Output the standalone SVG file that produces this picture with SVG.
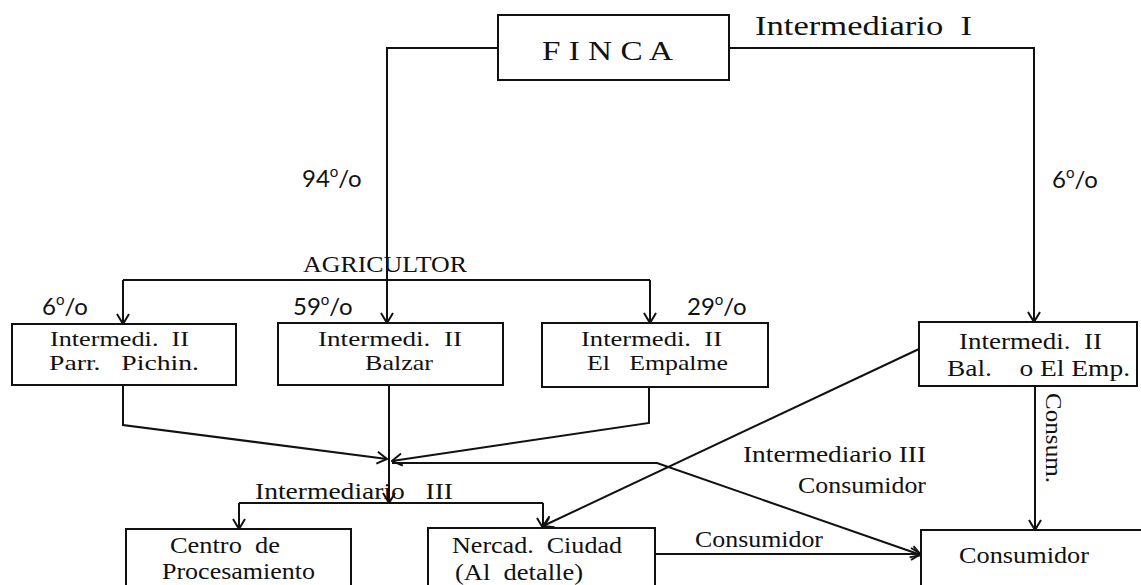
<svg xmlns="http://www.w3.org/2000/svg" width="1141" height="585" viewBox="0 0 1141 585">
<defs>
<style>
.box{fill:none;stroke:#111;stroke-width:2}
.t{font-family:"Liberation Serif","Times New Roman",serif;font-size:24px;fill:#111}
.s{font-size:22px}
.big{font-size:27px}
.p{font-family:Lato,"Noto Sans",sans-serif;font-size:24px;fill:#111}
.sup{font-size:15px}
.c{fill:none;stroke:#111;stroke-width:2}
</style>
<marker id="ah" viewBox="0 0 12 14" refX="11" refY="7" markerWidth="12" markerHeight="14" markerUnits="userSpaceOnUse" orient="auto">
<path d="M1,1 L11,7 L1,13" fill="none" stroke="#111" stroke-width="2"/>
</marker>
</defs>
<rect width="1141" height="585" fill="#fff"/>

<g id="connectors">
<path class="c" d="M498,48 H387 V323" marker-end="url(#ah)"/>
<path class="c" d="M729,48 H1034 V322" marker-end="url(#ah)"/>
<path class="c" d="M123,280 H650"/>
<path class="c" d="M123,280 V324" marker-end="url(#ah)"/>
<path class="c" d="M650,280 V323" marker-end="url(#ah)"/>
<path class="c" d="M123,385 V425 L387,459" marker-end="url(#ah)"/>
<path class="c" d="M389,385 V503" marker-end="url(#ah)"/>
<path class="c" d="M649,387 V423 L392,461" marker-end="url(#ah)"/>
<path class="c" d="M392,463 H657 L921,555" marker-end="url(#ah)"/>
<path class="c" d="M239,503 H543"/>
<path class="c" d="M239,503 V529" marker-end="url(#ah)"/>
<path class="c" d="M543,503 V528" marker-end="url(#ah)"/>
<path class="c" d="M919,349 L543,526" marker-end="url(#ah)"/>
<path class="c" d="M655,554 H921" marker-end="url(#ah)"/>
<path class="c" d="M1035,386 V530" marker-end="url(#ah)"/>
</g>

<g id="labels">
<text class="t big" x="755" y="35" textLength="217" lengthAdjust="spacingAndGlyphs" xml:space="preserve">Intermediario  I</text>
<text class="t" x="303" y="272" textLength="164" lengthAdjust="spacingAndGlyphs">AGRICULTOR</text>
<text class="t" x="255" y="499" textLength="198" lengthAdjust="spacingAndGlyphs" xml:space="preserve">Intermediario   III</text>
<text class="t" x="743" y="462" textLength="183" lengthAdjust="spacingAndGlyphs">Intermediario III</text>
<text class="t" x="798" y="493" textLength="128" lengthAdjust="spacingAndGlyphs">Consumidor</text>
<text class="t" x="695" y="547" textLength="128" lengthAdjust="spacingAndGlyphs">Consumidor</text>
<text class="t" transform="translate(1046,393) rotate(90)" x="0" y="0" textLength="90" lengthAdjust="spacingAndGlyphs">Consum.</text>
<text class="p" x="302" y="187">94<tspan class="sup" dy="-10">o</tspan><tspan dy="10">/o</tspan></text>
<text class="p" x="1052" y="188">6<tspan class="sup" dy="-10">o</tspan><tspan dy="10">/o</tspan></text>
<text class="p" x="42" y="315">6<tspan class="sup" dy="-10">o</tspan><tspan dy="10">/o</tspan></text>
<text class="p" x="293" y="315">59<tspan class="sup" dy="-10">o</tspan><tspan dy="10">/o</tspan></text>
<text class="p" x="687" y="315">29<tspan class="sup" dy="-10">o</tspan><tspan dy="10">/o</tspan></text>
</g>

<g id="finca">
<rect class="box" x="498" y="15" width="231" height="65"/>
<text class="t big" x="542" y="60" textLength="131" lengthAdjust="spacingAndGlyphs" xml:space="preserve">F I N C A</text>
</g>

<g id="parr-pichin">
<rect class="box" x="12" y="324" width="224" height="61"/>
<text class="t s" x="50" y="346" textLength="139" lengthAdjust="spacingAndGlyphs" xml:space="preserve">Intermedi.  II</text>
<text class="t s" x="49" y="370" textLength="150" lengthAdjust="spacingAndGlyphs" xml:space="preserve">Parr.   Pichin.</text>
</g>

<g id="balzar">
<rect class="box" x="278" y="323" width="225" height="62"/>
<text class="t s" x="318" y="346" textLength="144" lengthAdjust="spacingAndGlyphs" xml:space="preserve">Intermedi.  II</text>
<text class="t s" x="365" y="370" textLength="68" lengthAdjust="spacingAndGlyphs">Balzar</text>
</g>

<g id="el-empalme">
<rect class="box" x="542" y="323" width="226" height="64"/>
<text class="t s" x="581" y="346" textLength="141" lengthAdjust="spacingAndGlyphs" xml:space="preserve">Intermedi.  II</text>
<text class="t s" x="587" y="370" textLength="141" lengthAdjust="spacingAndGlyphs" xml:space="preserve">El   Empalme</text>
</g>

<g id="bal-el-emp">
<rect class="box" x="919" y="322" width="218" height="64"/>
<text class="t" x="959" y="349" textLength="143" lengthAdjust="spacingAndGlyphs" xml:space="preserve">Intermedi.  II</text>
<text class="t" x="947" y="376" textLength="183" lengthAdjust="spacingAndGlyphs" xml:space="preserve">Bal.    o El Emp.</text>
</g>

<g id="centro">
<rect class="box" x="126" y="529" width="225" height="80"/>
<text class="t" x="170" y="553" textLength="110" lengthAdjust="spacingAndGlyphs" xml:space="preserve">Centro  de</text>
<text class="t" x="162" y="579" textLength="153" lengthAdjust="spacingAndGlyphs">Procesamiento</text>
</g>

<g id="nercad">
<rect class="box" x="428" y="528" width="227" height="80"/>
<text class="t" x="452" y="553" textLength="170" lengthAdjust="spacingAndGlyphs" xml:space="preserve">Nercad.  Ciudad</text>
<text class="t" x="455" y="580" textLength="128" lengthAdjust="spacingAndGlyphs" xml:space="preserve">(Al  detalle)</text>
</g>

<g id="consumidor">
<rect class="box" x="921" y="530" width="240" height="80"/>
<text class="t" x="959" y="563" textLength="130" lengthAdjust="spacingAndGlyphs">Consumidor</text>
</g>
</svg>
